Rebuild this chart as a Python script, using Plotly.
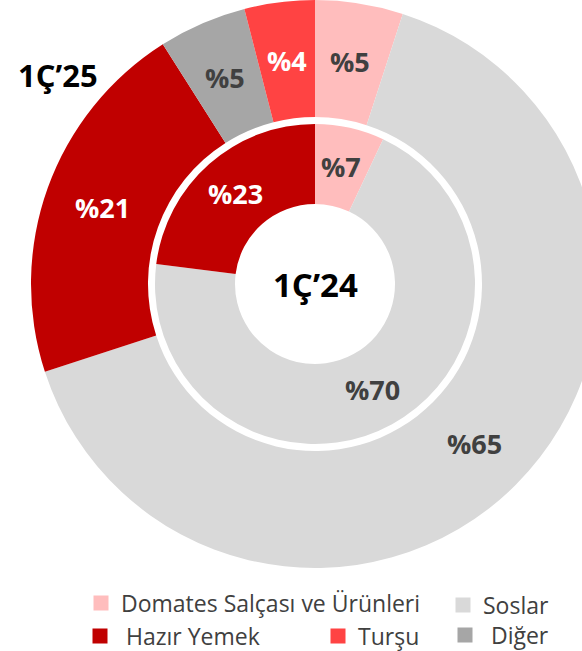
import math
import plotly.graph_objects as go

categories = ["Domates Salçası ve Ürünleri", "Soslar", "Hazır Yemek", "Diğer", "Turşu"]
values_1c25 = [5, 65, 21, 5, 4]
inner_categories = ["Domates Salçası ve Ürünleri", "Soslar", "Hazır Yemek"]
values_1c24 = [7, 70, 23]

colors = {
    "Domates Salçası ve Ürünleri": "#FFBDBD",
    "Soslar": "#D9D9D9",
    "Hazır Yemek": "#C00000",
    "Diğer": "#A6A6A6",
    "Turşu": "#FF4343",
}
text_colors = {
    "Domates Salçası ve Ürünleri": "#404040",
    "Soslar": "#404040",
    "Hazır Yemek": "#FFFFFF",
    "Diğer": "#404040",
    "Turşu": "#FFFFFF",
}

FONT = "Open Sans"
W, H = 599, 651
ML, MT, MB = 31, 0, 83
PW = W - ML
PH = H - MT - MB
R_OUT = PW / 2          # outer ring radius (px)
HOLE_OUT = 167 / 284
R_IN = 160              # inner ring radius (px)
HOLE_IN = 0.5
lo = (R_OUT - R_IN) / PW
hi = (R_OUT + R_IN) / PW

fig = go.Figure()
fig.add_trace(go.Pie(
    labels=categories, values=values_1c25, sort=False, direction="clockwise", rotation=0,
    hole=HOLE_OUT, domain=dict(x=[0, 1], y=[0, 1]),
    marker=dict(colors=[colors[c] for c in categories], line=dict(width=0)),
    textinfo="none", showlegend=False, hoverinfo="label+value",
))
fig.add_trace(go.Pie(
    labels=inner_categories, values=values_1c24, sort=False, direction="clockwise", rotation=0,
    hole=HOLE_IN, domain=dict(x=[lo, hi], y=[lo, hi]),
    marker=dict(colors=[colors[c] for c in inner_categories], line=dict(width=0)),
    textinfo="none", showlegend=False, hoverinfo="label+value",
))


def ring_labels(cats, vals, r_outer, hole):
    """Data labels at the middle of each ring segment (as in the original chart)."""
    total = sum(vals)
    r_mid = r_outer * (1 + hole) / 2
    out, cum = [], 0.0
    for c, v in zip(cats, vals):
        theta = 2 * math.pi * (cum + v / 2) / total
        cum += v
        xpx = R_OUT + r_mid * math.sin(theta)
        ypx = R_OUT - r_mid * math.cos(theta)
        out.append(dict(
            text=f"%{v}", x=xpx / PW, y=1 - ypx / PH, xref="paper", yref="paper",
            xanchor="center", yanchor="middle", showarrow=False,
            font=dict(family=FONT, size=27, weight="bold", color=text_colors[c]),
        ))
    return out


annotations = ring_labels(categories, values_1c25, R_OUT, HOLE_OUT)
annotations += ring_labels(inner_categories, values_1c24, R_IN, HOLE_IN)
annotations += [
    dict(text="1Ç’25", x=(58 - ML) / PW, y=1 - 75 / PH, xref="paper", yref="paper",
         xanchor="center", yanchor="middle", showarrow=False,
         font=dict(family=FONT, size=31, weight="bold", color="#000000")),
    dict(text="1Ç’24", x=0.5, y=1 - 284 / PH, xref="paper", yref="paper",
         xanchor="center", yanchor="middle", showarrow=False,
         font=dict(family=FONT, size=33, weight="bold", color="#000000")),
]

legend_items = [
    ("Domates Salçası ve Ürünleri", "Domates Salçası ve Ürünleri", 101, 603),
    ("Soslar", "Soslar", 463, 605),
    ("Hazır Yemek", " Hazır Yemek", 100, 636),
    ("Turşu", "Turşu", 338, 636),
    ("Diğer", " Diğer", 465, 635),
]
layout_legends = {}
for i, (cat, name, cx, cy) in enumerate(legend_items):
    key = "legend" if i == 0 else f"legend{i + 1}"
    fig.add_trace(go.Scatter(
        x=[None], y=[None], mode="markers", name=name, legend=key,
        marker=dict(symbol="square", size=15, color=colors[cat]), showlegend=True,
        hoverinfo="skip",
    ))
    layout_legends[key] = dict(
        xref="paper", yref="paper", x=(cx - 20 - ML) / PW, y=1 - (cy - MT) / PH,
        xanchor="left", yanchor="middle", bgcolor="rgba(0,0,0,0)", borderwidth=0,
        font=dict(family=FONT, size=23, color="#404040"), itemclick=False,
    )

fig.update_layout(
    width=W, height=H, margin=dict(l=ML, r=0, t=MT, b=MB, autoexpand=False),
    paper_bgcolor="white", plot_bgcolor="white",
    xaxis=dict(visible=False, range=[0, 1], fixedrange=True),
    yaxis=dict(visible=False, range=[0, 1], fixedrange=True),
    annotations=annotations,
    **layout_legends,
)

fig.write_html(
    "out.html",
    config={"displayModeBar": False},
    post_script="document.body.style.margin='0';document.body.style.overflow='hidden';",
)
